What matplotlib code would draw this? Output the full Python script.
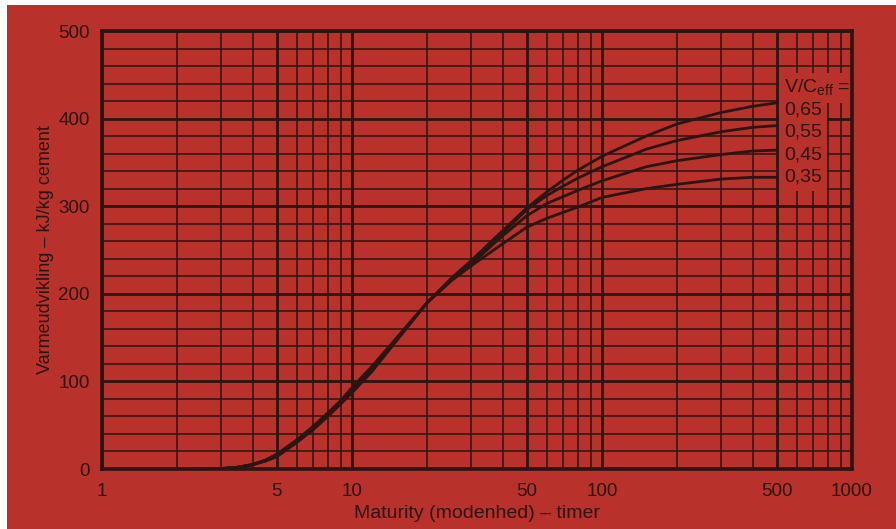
import matplotlib.pyplot as plt
from matplotlib.patches import Rectangle
from matplotlib import rcParams

rcParams['font.family'] = ['Liberation Sans', 'DejaVu Sans']
rcParams['mathtext.fontset'] = 'custom'
rcParams['mathtext.rm'] = 'Liberation Sans'

RED = '#b8312b'
INK = '#2a1512'

# maturity (hours) and heat of hydration (kJ/kg cement)
maturity = [2.5, 3, 3.5, 4, 4.5, 5, 6, 7, 8, 9, 10, 12, 14, 17, 20, 25, 30,
            40, 50, 60, 70, 80, 100, 150, 200, 300, 400, 500]
heat_035 = [0, 0.5, 2, 5, 10, 17, 33, 49, 64, 78, 93, 117, 139, 167, 190, 215, 232,
            257, 276, 286, 293, 299, 310, 320, 325, 331, 333, 333]
heat_045 = [0, 0.5, 2, 5, 10, 16, 32, 48, 63, 77, 91, 115, 138, 166, 190, 216, 234,
            266, 289, 303, 311, 318, 329, 345, 352, 359, 363, 364]
heat_055 = [0, 0.5, 2, 5, 9, 15, 31, 46, 61, 75, 89, 113, 136, 166, 190, 217, 236,
            269, 296, 312, 323, 332, 345, 365, 375, 385, 390, 392]
heat_065 = [0, 0.5, 2, 5, 9, 14, 30, 45, 60, 74, 87, 111, 135, 165, 190, 218, 238,
            272, 298, 316, 330, 341, 357, 380, 394, 407, 414, 418]

curves = [('0,65', heat_065), ('0,55', heat_055), ('0,45', heat_045), ('0,35', heat_035)]
label_y = [410, 385, 358, 333]

x_major = [1, 5, 10, 50, 100, 500, 1000]
x_minor = [2, 3, 4, 6, 7, 8, 9, 20, 30, 40, 60, 70, 80, 90,
           200, 300, 400, 600, 700, 800, 900]
y_major = [0, 100, 200, 300, 400, 500]
y_minor = [v for v in range(20, 500, 20) if v % 100]

fig = plt.figure(figsize=(8.96, 5.29), dpi=100)
fig.set_facecolor(RED)
# white scan border on the left and top edge
fig.patches.append(Rectangle((0, 0), 7 / 896, 1, transform=fig.transFigure,
                             facecolor='white', edgecolor='none'))
fig.patches.append(Rectangle((0, 1 - 5 / 529), 1, 5 / 529, transform=fig.transFigure,
                             facecolor='white', edgecolor='none'))

ax = fig.add_axes([102 / 896, 1 - 469 / 529, 750 / 896, 438 / 529])
ax.set_facecolor(RED)
ax.set_xscale('log')
ax.set_xlim(1, 1000)
ax.set_ylim(0, 500)

ax.set_xticks(x_major)
ax.set_xticklabels([str(v) for v in x_major])
ax.set_xticks(x_minor, minor=True)
ax.set_xticklabels([], minor=True)
ax.set_yticks(y_major)
ax.set_yticks(y_minor, minor=True)
ax.tick_params(which='both', length=0, colors=INK, labelsize=13.5)
ax.tick_params(axis='x', pad=10)
ax.tick_params(axis='y', pad=9)

ax.grid(which='major', color=INK, linewidth=2.0)
ax.grid(which='minor', color=INK, linewidth=1.1)
ax.set_axisbelow(True)
for sp in ax.spines.values():
    sp.set_linewidth(2.6)
    sp.set_color(INK)

for name, heat in curves:
    ax.plot(maturity, heat, color=INK, linewidth=2.0, solid_capstyle='round', zorder=3)

box = dict(facecolor=RED, edgecolor='none', pad=3.5)
ax.text(535, 435, r'V/C$_{\mathrm{eff}}$ =', fontsize=14, color=INK,
        ha='left', va='center', bbox=box, zorder=2.5)
for (name, heat), ly in zip(curves, label_y):
    ax.text(535, ly, name, fontsize=14, color=INK, ha='left', va='center',
            bbox=box, zorder=2.5)

ax.set_xlabel('Maturity (modenhed) – timer', fontsize=14, color=INK, labelpad=4)
ax.set_ylabel('Varmeudvikling – kJ/kg cement', fontsize=13, color=INK, labelpad=3)

fig.savefig('out.png', dpi=100, facecolor=RED)
